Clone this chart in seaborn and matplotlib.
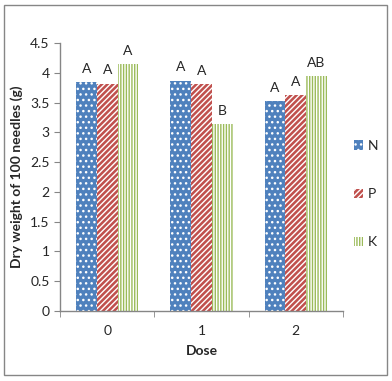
import pandas as pd
import matplotlib
matplotlib.use("Agg")
import matplotlib.pyplot as plt
import seaborn as sns
from matplotlib.patches import Patch, Rectangle

# data
doses = ["0", "1", "2"]
nutrients = ["N", "P", "K"]
n_vals = [3.84, 3.87, 3.52]
p_vals = [3.82, 3.81, 3.62]
k_vals = [4.14, 3.14, 3.94]
n_letters = ["A", "A", "A"]
p_letters = ["A", "A", "A"]
k_letters = ["A", "B", "AB"]

colors = {"N": "#4F81BD", "P": "#C0504D", "K": "#9BBB59"}
hatches = {"N": "...", "P": "//////", "K": "||||||"}

rows = []
for vals, nut in zip([n_vals, p_vals, k_vals], nutrients):
    for d, v in zip(doses, vals):
        rows.append({"Dose": d, "Nutrient": nut, "Weight": v})
data = pd.DataFrame(rows)

sns.set_style("white")
plt.rcParams["font.family"] = ["Lato", "DejaVu Sans"]
plt.rcParams["hatch.linewidth"] = 1.0

fig = plt.figure(figsize=(3.92, 3.81), dpi=100)
ax = fig.add_axes([0.153, 0.184, 0.722, 0.703])

sns.barplot(data=data, x="Dose", y="Weight", hue="Nutrient", order=doses,
            hue_order=nutrients, width=0.66, ax=ax, legend=False,
            palette=colors, saturation=1)

letters = [n_letters, p_letters, k_letters]
for cont, nut, labs in zip(ax.containers, nutrients, letters):
    for bar, lab in zip(cont, labs):
        if nut == "K":
            bar.set_facecolor("white")
            bar.set_edgecolor(colors[nut])
        else:
            bar.set_edgecolor("white")
        bar.set_hatch(hatches[nut])
        bar.set_linewidth(0)
        ax.text(bar.get_x() + bar.get_width() / 2, bar.get_height() + 0.12, lab,
                ha="center", va="bottom", fontsize=10)

ax.set_ylim(0, 4.5)
ax.set_xlim(-0.5, 2.5)
ax.set_yticks([0, 0.5, 1, 1.5, 2, 2.5, 3, 3.5, 4, 4.5])
ax.set_yticklabels(["0", "0.5", "1", "1.5", "2", "2.5", "3", "3.5", "4", "4.5"])
ax.set_xticks([-0.5, 0.5, 1.5, 2.5], minor=True)
ax.tick_params(axis="x", which="minor", length=4, color="#868686", bottom=True)
ax.tick_params(axis="x", which="major", length=0, labelsize=10, pad=10)
ax.tick_params(axis="y", length=4, color="#868686", left=True, labelsize=10)
for s in ["top", "right"]:
    ax.spines[s].set_visible(False)
for s in ["left", "bottom"]:
    ax.spines[s].set_color("#868686")
    ax.spines[s].set_linewidth(1)

ax.set_xlabel("Dose", fontsize=10, fontweight="bold", labelpad=6)
ax.set_ylabel("Dry weight of 100 needles (g)", fontsize=10, fontweight="bold", labelpad=5)

handles = []
for nut in nutrients:
    if nut == "K":
        handles.append(Patch(facecolor="white", edgecolor=colors[nut], hatch=hatches[nut], linewidth=0, label=nut))
    else:
        handles.append(Patch(facecolor=colors[nut], edgecolor="white", hatch=hatches[nut], linewidth=0, label=nut))
fig.legend(handles=handles, loc="center left", bbox_to_anchor=(0.87, 0.49),
           frameon=False, fontsize=10, handlelength=0.7, handleheight=0.7,
           handletextpad=0.3, labelspacing=2.6)

fig.patches.append(Rectangle((0.011, 0.015), 0.976, 0.971, transform=fig.transFigure,
                             fill=False, edgecolor="#868686", linewidth=1))

fig.savefig("out.png", dpi=100)
